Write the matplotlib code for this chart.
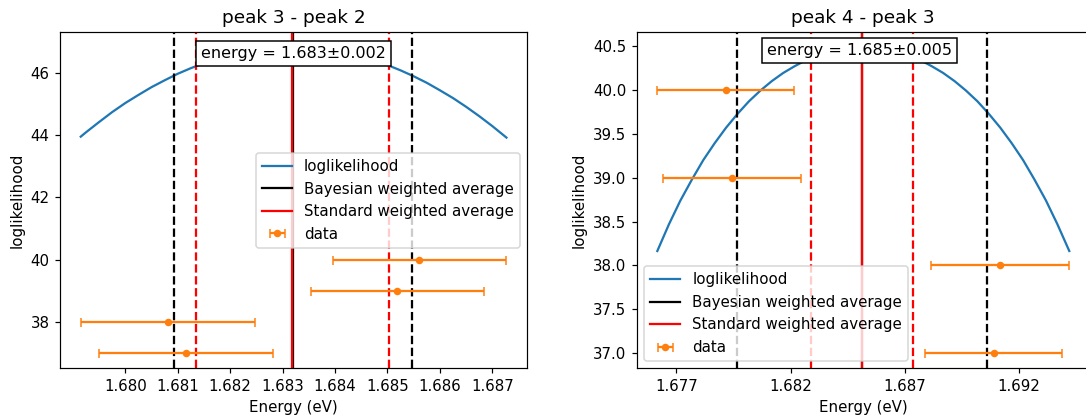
import matplotlib
matplotlib.use("Agg")
import matplotlib.pyplot as plt

# ---------------- data: panel 1 (peak 3 - peak 2) ----------------
title1 = "peak 3 - peak 2"
curve1_x = [1.67915, 1.67925, 1.67950, 1.67975, 1.68000, 1.68025, 1.68050, 1.68075,
            1.68100, 1.68125, 1.68150, 1.68175, 1.68200, 1.68225, 1.68250, 1.68275,
            1.68300, 1.68320, 1.68350, 1.68375, 1.68400, 1.68425, 1.68450, 1.68475,
            1.68500, 1.68525, 1.68550, 1.68575, 1.68600, 1.68625, 1.68650, 1.68675,
            1.68700, 1.68727]
curve1_y = [43.95, 44.09, 44.42, 44.74, 45.03, 45.29, 45.54, 45.76,
            45.97, 46.15, 46.31, 46.44, 46.56, 46.65, 46.72, 46.77,
            46.80, 46.81, 46.79, 46.76, 46.70, 46.62, 46.52, 46.39,
            46.25, 46.08, 45.89, 45.68, 45.44, 45.19, 44.91, 44.61,
            44.29, 43.92]
data1_x = [1.685611, 1.685191, 1.680809, 1.681164]
data1_y = [40, 39, 38, 37]
data1_xerr = [0.001655, 0.001657, 0.001657, 0.001657]
bayes1_center, bayes1_lo, bayes1_hi = 1.683195, 1.680924, 1.685466
std1_center, std1_lo, std1_hi = 1.683187, 1.681349, 1.685038
label1 = "energy = 1.683\u00b10.002"
xticks1 = [1.680, 1.681, 1.682, 1.683, 1.684, 1.685, 1.686, 1.687]
yticks1 = [38, 40, 42, 44, 46]

# ---------------- data: panel 2 (peak 4 - peak 3) ----------------
title2 = "peak 4 - peak 3"
curve2_x = [1.67617, 1.67668, 1.67718, 1.67768, 1.67818, 1.67868, 1.67918, 1.67968,
            1.68018, 1.68068, 1.68118, 1.68168, 1.68218, 1.68268, 1.68318, 1.68368,
            1.68418, 1.68468, 1.68518, 1.68568, 1.68618, 1.68668, 1.68718, 1.68768,
            1.68818, 1.68868, 1.68918, 1.68968, 1.69018, 1.69068, 1.69118, 1.69168,
            1.69218, 1.69268, 1.69318, 1.69368, 1.69420]
curve2_y = [38.165, 38.470, 38.740, 38.977, 39.200, 39.393, 39.570, 39.727,
            39.870, 39.992, 40.100, 40.193, 40.270, 40.339, 40.390, 40.433,
            40.460, 40.479, 40.485, 40.479, 40.460, 40.433, 40.390, 40.339,
            40.270, 40.193, 40.100, 39.992, 39.870, 39.727, 39.570, 39.393,
            39.200, 38.977, 38.740, 38.470, 38.165]
data2_x = [1.679162, 1.679438, 1.691166, 1.690886]
data2_y = [40, 39, 38, 37]
data2_xerr = [0.002998, 0.003013, 0.003006, 0.003006]
bayes2_center, bayes2_lo, bayes2_hi = 1.685140, 1.679670, 1.690611
std2_center, std2_lo, std2_hi = 1.685140, 1.682908, 1.687372
label2 = "energy = 1.685\u00b10.005"
xticks2 = [1.677, 1.682, 1.687, 1.692]
yticks2 = [37.0, 37.5, 38.0, 38.5, 39.0, 39.5, 40.0, 40.5]

DPI = 108
fig = plt.figure(figsize=(1086 / DPI, 419 / DPI), dpi=DPI)

ax1 = fig.add_axes([0.05525, 0.1210, 0.43029, 0.8019])
ax2 = fig.add_axes([0.58627, 0.1210, 0.41731, 0.8019])


def draw(ax, cx, cy, dx, dy, dxe, bc, blo, bhi, sc, slo, shi, label, title,
         xticks, xfmt, yticks, yfmt, xlim, ylim, legloc, tx, ty):
    ax.plot(cx, cy, color="C0", label="loglikelihood")
    ax.axvline(bc, color="black", label="Bayesian weighted average")
    ax.axvline(blo, color="black", ls="--")
    ax.axvline(bhi, color="black", ls="--")
    ax.axvline(sc, color="red", label="Standard weighted average")
    ax.axvline(slo, color="red", ls="--")
    ax.axvline(shi, color="red", ls="--")
    ax.errorbar(dx, dy, xerr=dxe, fmt="o", color="C1", markersize=4,
                capsize=3, label="data")
    ax.text(tx, ty, label, transform=ax.transAxes, ha="center", va="center",
            fontsize=10.7,
            bbox=dict(boxstyle="square,pad=0.3", facecolor="white",
                      edgecolor="black"))
    ax.set_xticks(xticks)
    ax.set_xticklabels([xfmt % v for v in xticks])
    ax.set_yticks(yticks)
    ax.set_yticklabels([yfmt % v for v in yticks])
    ax.set_xlim(*xlim)
    ax.set_ylim(*ylim)
    ax.set_xlabel("Energy (eV)")
    ax.set_ylabel("loglikelihood")
    ax.set_title(title, fontsize=12.3)
    ax.legend(loc=legloc)


draw(ax1, curve1_x, curve1_y, data1_x, data1_y, data1_xerr,
     bayes1_center, bayes1_lo, bayes1_hi, std1_center, std1_lo, std1_hi,
     label1, title1, xticks1, "%.3f", yticks1, "%d",
     (1.678754, 1.687668), (36.508, 47.302), "center right", 0.4995, 0.937)

draw(ax2, curve2_x, curve2_y, data2_x, data2_y, data2_xerr,
     bayes2_center, bayes2_lo, bayes2_hi, std2_center, std2_lo, std2_hi,
     label2, title2, xticks2, "%.3f", yticks2, "%.1f",
     (1.675267, 1.695102), (36.829, 40.656), "lower left", 0.491, 0.945)

fig.savefig("out.png", dpi=DPI)
